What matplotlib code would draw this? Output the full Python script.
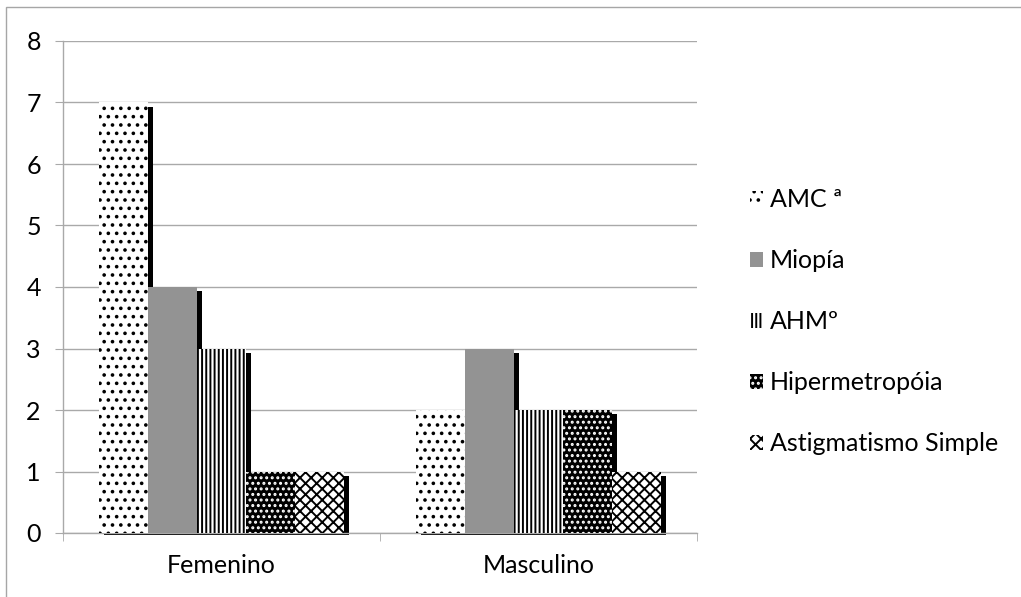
import matplotlib
matplotlib.use("Agg")
import matplotlib.pyplot as plt
from matplotlib.patches import Rectangle, Patch
import numpy as np

categories = ["Femenino", "Masculino"]
series = ["AMC ª", "Miopía", "AHMº", "Hipermetropóia", "Astigmatismo Simple"]
femenino = [7, 4, 3, 1, 1]
masculino = [2, 3, 2, 2, 1]
y_ticks = [0, 1, 2, 3, 4, 5, 6, 7, 8]

# fill style per series: (face, hatch colour, hatch)
styles = [
    ("white", "black", ".."),
    ("#939393", "#939393", None),
    ("white", "black", "||||"),
    ("black", "white", "..."),
    ("white", "black", "xxx"),
]

plt.rcParams["font.family"] = ["Lato", "DejaVu Sans"]
plt.rcParams["hatch.linewidth"] = 1.4
GRID = "#a9a9a9"
FS = 18

W, H, DPI = 1021, 597, 100
fig = plt.figure(figsize=(W / DPI, H / DPI), dpi=DPI)
ax = fig.add_axes([63 / W, 1 - 533 / H, 634 / W, 492 / H])

ax.set_xlim(-0.5, 1.5)
ax.set_ylim(0, 8)

bar_w = 0.155
values = np.array([femenino, masculino])
x = np.arange(len(categories))

# shadow offset in data units (about 5px right, 4px down)
px_x = 2.0 / 634
px_y = 8.0 / 492
dx, dy = 5 * px_x, 4 * px_y

for i, name in enumerate(series):
    face, hc, hatch = styles[i]
    xs = x + (i - 2) * bar_w
    vals = values[:, i]
    for xc, v in zip(xs, vals):
        left = xc - bar_w / 2
        ax.add_patch(Rectangle((left + dx, -2 * px_y), bar_w, v - dy + 2 * px_y,
                               facecolor="black", edgecolor="none",
                               zorder=1.5, clip_on=False))
    ax.bar(xs, vals, width=bar_w, color=face, edgecolor=hc, hatch=hatch,
           linewidth=0, zorder=2)

ax.set_axisbelow(True)
ax.yaxis.grid(True, color=GRID, linewidth=1)
for s in ["top", "right"]:
    ax.spines[s].set_visible(False)
for s in ["left", "bottom"]:
    ax.spines[s].set_color(GRID)
    ax.spines[s].set_linewidth(1)
    ax.spines[s].set_zorder(1.6)

ax.set_yticks(y_ticks)
ax.tick_params(axis="y", length=6, color=GRID, pad=10, labelsize=FS)
ax.set_xticks(x)
ax.set_xticklabels(categories)
ax.set_xticks([-0.5, 0.5, 1.5], minor=True)
ax.tick_params(axis="x", which="major", length=0, pad=15, labelsize=FS)
ax.tick_params(axis="x", which="minor", length=6, color=GRID)

handles = []
for i, name in enumerate(series):
    face, hc, hatch = styles[i]
    handles.append(Patch(facecolor=face, edgecolor=hc, hatch=hatch,
                         linewidth=0, label=name))
ax.legend(handles=handles, loc="center left", bbox_to_anchor=(1.083, 0.429),
          frameon=False, fontsize=FS, handlelength=0.55, handleheight=0.55,
          handletextpad=0.25, labelspacing=1.52, borderaxespad=0,
          borderpad=0)

# outer chart frame
fig.patches.append(Rectangle((6 / W, -0.1), 1.2, 1.1 - 6.5 / H, fill=False,
                             edgecolor="#a6a6a6", linewidth=1,
                             transform=fig.transFigure, clip_on=False))

fig.savefig("out.png", dpi=DPI)
